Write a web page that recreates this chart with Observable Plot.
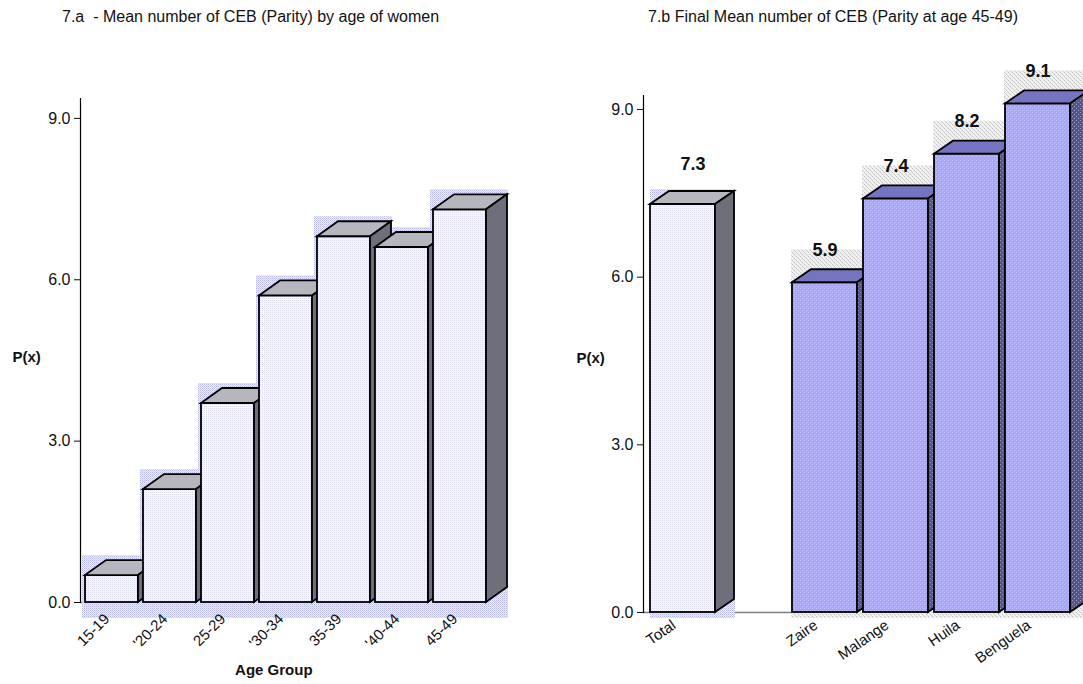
<!DOCTYPE html>
<html><head><meta charset="utf-8">
<script src="https://cdn.jsdelivr.net/npm/d3@7"></script>
<script src="https://cdn.jsdelivr.net/npm/@observablehq/plot@0.6"></script>
<style>
body{margin:0;background:#fff;font-family:Arial,"Liberation Sans",sans-serif;}
#wrap{position:relative;width:1083px;height:684px;overflow:hidden;background:#fff;}
.title{position:absolute;top:7px;font-size:16px;line-height:20px;color:#111;white-space:pre;}
</style></head><body>
<svg width="0" height="0" style="position:absolute">
<defs>
<pattern id="pLavFront" width="2" height="2" patternUnits="userSpaceOnUse"><rect width="2" height="2" fill="#f5f5fd"/><rect width="1" height="1" fill="#dedef5"/></pattern>
<pattern id="pLavShadow" width="2" height="2" patternUnits="userSpaceOnUse"><rect width="2" height="2" fill="#ececf8"/><rect width="1" height="1" fill="#b8b8e4"/><rect x="1" y="1" width="1" height="1" fill="#d4d4f0"/></pattern>
<pattern id="pBlue" width="4" height="4" patternUnits="userSpaceOnUse"><rect width="4" height="4" fill="#a8a8ff"/><rect x="0" y="0" width="1" height="1" fill="#c4c4fa"/><rect x="2" y="2" width="1" height="1" fill="#c4c4fa"/><rect x="1" y="1" width="1" height="1" fill="#9a9af4"/></pattern>
<pattern id="pBlueSide" width="4" height="4" patternUnits="userSpaceOnUse"><rect width="4" height="4" fill="#55558c"/><rect x="0" y="0" width="1" height="1" fill="#9a9abc"/><rect x="2" y="2" width="1" height="1" fill="#9a9abc"/></pattern>
<pattern id="pGrayShadow" width="4" height="4" patternUnits="userSpaceOnUse"><rect width="4" height="4" fill="#f0f0f0"/><rect x="0" y="0" width="1" height="1" fill="#c0c0c0"/><rect x="2" y="2" width="1" height="1" fill="#c0c0c0"/><rect x="1" y="1" width="1" height="1" fill="#d6d6d6"/><rect x="3" y="3" width="1" height="1" fill="#d6d6d6"/></pattern>
</defs></svg>
<div id="wrap">
  <div class="title" style="left:62px">7.a  - Mean number of CEB (Parity) by age of women</div>
  <div class="title" style="left:648px">7.b Final Mean number of CEB (Parity at age 45-49)</div>
  <div id="left" style="position:absolute;left:0;top:40px"></div>
  <div id="right" style="position:absolute;left:540px;top:40px"></div>
</div>
<script>
// ---- data ----
const ageGroups = ["15-19", "'20-24", "25-29", "'30-34", "35-39", "'40-44", "45-49"];
const parityByAge = [0.5, 2.1, 3.7, 5.7, 6.8, 6.6, 7.3];
const totalNames = ["Total"];
const totalParity = [7.3];
const provinces = ["Zaire", "Malange", "Huila", "Benguela"];
const provinceParity = [5.9, 7.4, 8.2, 9.1];
const rightSlots = ["Total", "", "Zaire", "Malange", "Huila", "Benguela"];
const yTicks = [0, 3, 6, 9];

const ageData = ageGroups.map((g, i) => ({name: g, value: parityByAge[i]}));
const totalData = totalNames.map((g, i) => ({name: g, value: totalParity[i]}));
const provData = provinces.map((g, i) => ({name: g, value: provinceParity[i]}));

const FONT = "Arial, 'Liberation Sans', sans-serif";

function bar3d(data, o) {
  const {depth: [ddx, ddy], front, top, side, shadow, shadowTop, shadowBottom, shadowLeft = 3, shadowRight = 1} = o;
  return Plot.barY(data, {
    x: "name", y: "value", fill: "#fff",
    render(index, scales, values, dims, ctx, next) {
      const g = next(index, scales, values, dims, ctx);
      const boxes = Array.from(g.querySelectorAll("rect")).map(r => ({
        x: +r.getAttribute("x"), y: +r.getAttribute("y"),
        w: +r.getAttribute("width"), h: +r.getAttribute("height")
      }));
      const sel = d3.create("svg:g");
      if (g.getAttribute("transform")) sel.attr("transform", g.getAttribute("transform"));
      for (const b of boxes) {
        const st = b.y - ddy - shadowTop;
        sel.append("rect").attr("x", b.x - shadowLeft).attr("y", st)
          .attr("width", b.w + ddx + shadowLeft + shadowRight)
          .attr("height", b.y + b.h + shadowBottom - st)
          .attr("fill", shadow).attr("stroke", "none");
      }
      for (const b of boxes) {
        const xl = b.x, xr = b.x + b.w, yt = b.y, yb = b.y + b.h;
        sel.append("rect").attr("x", xl).attr("y", yt).attr("width", b.w).attr("height", b.h)
          .attr("fill", front);
        sel.append("path").attr("d", `M${xl},${yt}L${xl + ddx},${yt - ddy}L${xr + ddx},${yt - ddy}L${xr},${yt}Z`)
          .attr("fill", top);
        sel.append("path").attr("d", `M${xr},${yt}L${xr + ddx},${yt - ddy}L${xr + ddx},${yb - ddy}L${xr},${yb}Z`)
          .attr("fill", side);
      }
      sel.selectAll("rect,path").filter(function() { return this.getAttribute("stroke") !== "none"; })
        .attr("stroke", "#000").attr("stroke-width", 1.8).attr("stroke-linejoin", "miter");
      return sel.node();
    }
  });
}

// ---- left chart ----
const left = Plot.plot({
  width: 540, height: 644,
  marginLeft: 80, marginRight: 49.3, marginTop: 58, marginBottom: 82,
  style: {fontFamily: FONT, color: "#111", background: "transparent", overflow: "visible"},
  x: {domain: ageGroups, paddingInner: 0.08, paddingOuter: 0.035, axis: null},
  y: {domain: [0, 9.37], axis: null},
  marks: [
    Plot.ruleY([0], {stroke: "#808080", strokeWidth: 1.5}),
    bar3d(ageData, {depth: [21, 15], front: "url(#pLavFront)", top: "#b6b6be", side: "#6f6f7c",
      shadow: "url(#pLavShadow)", shadowTop: 5, shadowBottom: 16}),
    Plot.frame({anchor: "left", stroke: "#000", strokeWidth: 1.2}),
    Plot.axisY({ticks: yTicks, tickFormat: d3.format(".1f"), tickSize: 6, tickPadding: 4, fontSize: 16, label: null}),
    Plot.axisX({tickSize: 0, tickRotate: -45, tickPadding: 14, fontSize: 15, label: null, dx: -5}),
    Plot.text(["P(x)"], {text: d => d, frameAnchor: "left", dx: -68, dy: 7, textAnchor: "start", fontWeight: "bold", fontSize: 15}),
    Plot.text(["Age Group"], {text: d => d, frameAnchor: "bottom", dx: -12, dy: 72, fontWeight: "bold", fontSize: 15})
  ]
});
document.getElementById("left").append(left);

// ---- right chart ----
const right = Plot.plot({
  width: 543, height: 644,
  marginLeft: 103, marginRight: 6, marginTop: 55, marginBottom: 72,
  style: {fontFamily: FONT, color: "#111", background: "transparent", overflow: "visible"},
  x: {domain: rightSlots, paddingInner: 0.083, paddingOuter: 0.056, axis: null},
  y: {domain: [0, 9.25], axis: null},
  marks: [
    Plot.ruleY([0], {stroke: "#808080", strokeWidth: 1.5}),
    bar3d(totalData, {depth: [19, 13], front: "url(#pLavFront)", top: "#b6b6be", side: "#6f6f7c",
      shadow: "url(#pLavShadow)", shadowTop: 2, shadowBottom: 6, shadowLeft: 0, shadowRight: 1}),
    bar3d(provData, {depth: [19, 13], front: "url(#pBlue)", top: "#7474c0", side: "url(#pBlueSide)",
      shadow: "url(#pGrayShadow)", shadowTop: 20, shadowBottom: 6, shadowLeft: 1, shadowRight: 1}),
    Plot.frame({anchor: "left", stroke: "#000", strokeWidth: 1.2}),
    Plot.axisY({ticks: yTicks, tickFormat: d3.format(".1f"), tickSize: 6, tickPadding: 4, fontSize: 16, label: null}),
    Plot.axisX({tickSize: 0, tickRotate: -35, tickPadding: 11, fontSize: 15, label: null, dx: -9}),
    Plot.text(totalData, {x: "name", y: "value", text: d => d.value.toFixed(1), dx: 10, dy: -40, fontWeight: "bold", fontSize: 18}),
    Plot.text(provData, {x: "name", y: "value", text: d => d.value.toFixed(1), dy: -33, fontWeight: "bold", fontSize: 18}),
    Plot.text(["P(x)"], {text: d => d, frameAnchor: "left", dx: -67, dy: 4, textAnchor: "start", fontWeight: "bold", fontSize: 15})
  ]
});
document.getElementById("right").append(right);
</script>
</body></html>
